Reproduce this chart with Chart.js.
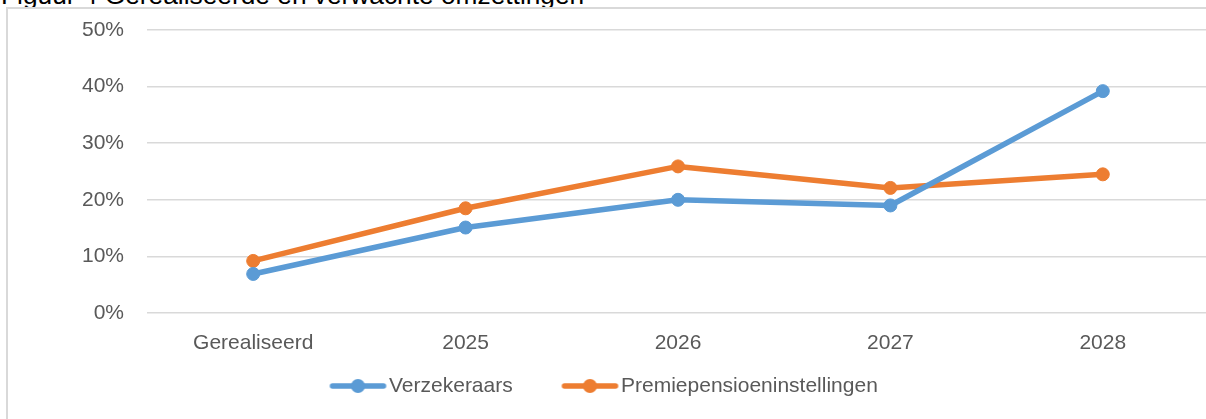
<!DOCTYPE html>
<html>
<head>
<meta charset="utf-8">
<script src="https://cdn.jsdelivr.net/npm/chart.js@4.4.1/dist/chart.umd.min.js"></script>
<style>
    html, body { margin: 0; padding: 0; background: #fff; overflow: hidden; width: 1206px; height: 419px; }
    #titel { position: absolute; left: 1px; top: -18px; font: 26.3px/26px 'Liberation Sans', Arial, sans-serif; color: #000; white-space: nowrap; }
    #kader { position: absolute; left: 6px; top: 7px; border-left: 2px solid #d9d9d9; border-top: 2px solid #d9d9d9; width: 1212px; height: 420px; }
    canvas { display: block; }
</style>
</head>
<body>
<div id="titel">Figuur 4 Gerealiseerde en verwachte omzettingen</div>
<div id="kader"><canvas id="grafiek" width="1212" height="420"></canvas></div>
<script>
(function() {
    "use strict";

    // Gegevens van de grafiek
    const categorieen = ['Gerealiseerd', '2025', '2026', '2027', '2028'];
    const verzekeraars = [6.9, 15.1, 20.0, 19.0, 39.2];
    const premiepensioen = [9.2, 18.5, 25.9, 22.1, 24.5];
    const reeksNamen = ['Verzekeraars', 'Premiepensioeninstellingen'];
    const yWaarden = [0, 10, 20, 30, 40, 50];
    const yLabels = ['0%', '10%', '20%', '30%', '40%', '50%'];

    const blauw = '#5B9BD5';
    const oranje = '#ED7D31';
    const lettertype = "'Liberation Sans', Arial, sans-serif";
    const F = 21;
    const tekstKleur = '#595959';

    // Vaste maten in canvas-pixels
    const W = 1212, H = 420;
    const plotLinks = 139, plotRechts = 1201, plotBoven = 21, plotOnder = 304;
    const xAsHoogte = 60, legendaHoogte = 40;
    const legendaMidden = 377, tekst1X = 381, tekstAfstand = 232;
    const boxB = 20;

    // Tekstbreedtes meten om de legenda goed te plaatsen
    const meet = document.createElement('canvas').getContext('2d');
    meet.font = 'normal ' + F + 'px ' + lettertype;
    const tw1 = meet.measureText(reeksNamen[0]).width;
    const tw2 = meet.measureText(reeksNamen[1]).width;
    const p = tekstAfstand - boxB - F / 2 - tw1;
    const x1 = tekst1X - boxB - F / 2;
    const lijnBreedte = (boxB + F / 2 + tw1) + (boxB + F / 2 + tw2) + 2 * p;
    const padLinks = 2 * x1 - p - plotRechts + lijnBreedte;
    const yAsBreedte = plotLinks - padLinks;
    const padOnder = H - plotOnder - xAsHoogte - legendaHoogte;

    // Legendasymbool: lijn met bolletje
    function maakSymbool(kleur) {
        const half = 44;
        const c = document.createElement('canvas');
        c.width = half * 2;
        c.height = 16;
        const g = c.getContext('2d');
        const van = half + boxB / 2 + F / 2 - 59;
        const tot = half + boxB / 2 + F / 2 - 3;
        g.strokeStyle = kleur;
        g.lineWidth = 5.5;
        g.lineCap = 'round';
        g.beginPath();
        g.moveTo(van + 2.5, 8);
        g.lineTo(tot - 2.5, 8);
        g.stroke();
        g.fillStyle = kleur;
        g.beginPath();
        g.arc((van + tot) / 2, 8, 7, 0, Math.PI * 2);
        g.fill();
        return c;
    }
    const symbolen = [maakSymbool(blauw), maakSymbool(oranje)];

    // Legenda: vaste hoogte en verschuiving naar de juiste hoogte
    const legendaPlugin = {
        id: 'legendaPositie',
        beforeUpdate(chart) {
            const lg = chart.legend;
            if (lg && !lg._aangepast) {
                const fit = lg.fit;
                lg.fit = function() {
                    fit.call(this);
                    this.height = legendaHoogte;
                };
                lg._aangepast = true;
            }
        },
        afterLayout(chart) {
            const lg = chart.legend;
            lg.top = legendaMidden - p - F / 2;
            lg.bottom = H;
        }
    };

    const ctx = document.getElementById('grafiek').getContext('2d');
    new Chart(ctx, {
        type: 'line',
        data: {
            labels: categorieen,
            datasets: [{
                label: reeksNamen[0],
                data: verzekeraars,
                borderColor: blauw,
                backgroundColor: blauw,
                pointBackgroundColor: blauw,
                pointBorderColor: blauw
            }, {
                label: reeksNamen[1],
                data: premiepensioen,
                borderColor: oranje,
                backgroundColor: oranje,
                pointBackgroundColor: oranje,
                pointBorderColor: oranje
            }]
        },
        options: {
            responsive: false,
            animation: false,
            devicePixelRatio: 1,
            layout: {
                padding: { left: padLinks, right: W - plotRechts, top: plotBoven, bottom: padOnder }
            },
            elements: {
                line: { borderWidth: 5.5, tension: 0, borderCapStyle: 'round', borderJoinStyle: 'round', fill: false },
                point: { radius: 6.5, borderWidth: 1, hoverRadius: 6.5 }
            },
            scales: {
                x: {
                    offset: true,
                    grid: { display: false },
                    border: { display: false },
                    ticks: { color: tekstKleur, font: { family: lettertype, size: F }, padding: 10, maxRotation: 0 },
                    afterFit: function(s) { s.height = xAsHoogte; }
                },
                y: {
                    min: 0,
                    max: 50,
                    grid: { color: '#d9d9d9', lineWidth: 1.5, drawTicks: false },
                    border: { display: false },
                    afterBuildTicks: function(s) { s.ticks = yWaarden.map(v => ({ value: v })); },
                    ticks: {
                        color: tekstKleur,
                        font: { family: lettertype, size: F },
                        padding: 23,
                        callback: function(v) { return yLabels[yWaarden.indexOf(v)]; }
                    },
                    afterFit: function(s) {
                        s.width = yAsBreedte;
                        s.paddingTop = 0;
                        s.paddingBottom = 0;
                    }
                }
            },
            plugins: {
                tooltip: { enabled: false },
                legend: {
                    position: 'bottom',
                    labels: {
                        color: tekstKleur,
                        font: { family: lettertype, size: F },
                        usePointStyle: true,
                        pointStyleWidth: boxB,
                        padding: p,
                        generateLabels: function(chart) {
                            const items = Chart.defaults.plugins.legend.labels.generateLabels(chart);
                            items.forEach(function(it) { it.pointStyle = symbolen[it.datasetIndex]; });
                            return items;
                        }
                    }
                }
            }
        },
        plugins: [legendaPlugin]
    });
})();
</script>
</body>
</html>
